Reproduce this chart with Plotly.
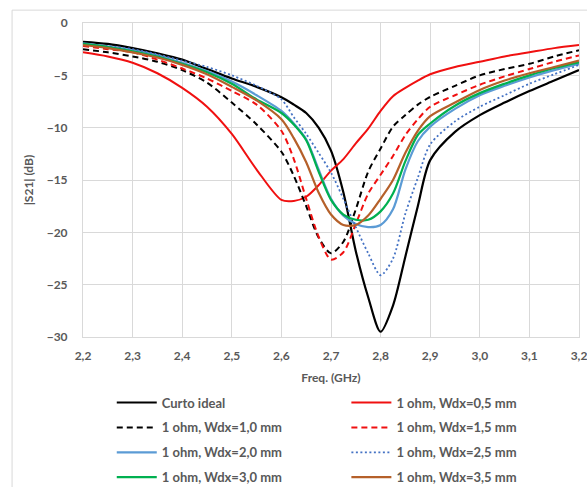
import plotly.graph_objects as go

freq = [2.2, 2.25, 2.3, 2.35, 2.4, 2.45, 2.5, 2.55, 2.6, 2.625, 2.65, 2.675, 2.7,
        2.725, 2.75, 2.775, 2.8, 2.825, 2.85, 2.875, 2.9, 2.95, 3.0, 3.05, 3.1, 3.15, 3.2]

curto_ideal = [-1.8, -2.0, -2.4, -2.9, -3.5, -4.4, -5.3, -6.1, -7.1, -7.8, -8.6, -10.0, -12.2,
               -16.2, -21.8, -26.2, -29.5, -27.0, -22.3, -17.5, -13.1, -10.4, -8.8, -7.6, -6.5, -5.5, -4.5]
wdx_05 = [-2.8, -3.2, -3.8, -4.8, -6.2, -8.0, -10.6, -14.0, -16.9, -17.0, -16.6, -15.5, -14.1,
          -13.0, -11.5, -10.1, -8.4, -7.0, -6.2, -5.5, -4.9, -4.2, -3.7, -3.2, -2.8, -2.4, -2.1]
wdx_10 = [-2.5, -2.8, -3.2, -3.7, -4.5, -5.7, -7.6, -9.7, -12.3, -14.6, -17.5, -20.5, -22.0,
          -20.9, -17.8, -14.2, -12.0, -9.9, -8.8, -7.8, -7.06, -6.0, -5.0, -4.4, -3.9, -3.2, -2.6]
wdx_15 = [-2.2, -2.5, -2.8, -3.5, -4.35, -5.3, -6.5, -7.8, -10.3, -13.0, -16.8, -20.4, -22.6,
          -21.9, -19.2, -16.3, -14.5, -12.7, -10.7, -9.2, -8.0, -6.9, -5.9, -5.1, -4.4, -3.7, -3.1]
wdx_20 = [-1.95, -2.25, -2.6, -3.1, -3.8, -4.6, -5.6, -6.9, -8.4, -9.6, -11.1, -14.0, -16.8,
          -18.4, -19.2, -19.5, -19.3, -17.8, -14.0, -11.3, -9.9, -8.2, -6.9, -6.0, -5.2, -4.5, -3.9]
wdx_25 = [-2.0, -2.2, -2.5, -3.0, -3.6, -4.2, -5.0, -6.0, -7.3, -9.0, -10.6, -12.4, -14.3,
          -16.8, -19.5, -22.0, -24.1, -22.5, -18.2, -14.8, -11.6, -9.4, -8.0, -6.9, -5.8, -4.9, -4.0]
wdx_30 = [-2.0, -2.3, -2.7, -3.2, -3.9, -4.7, -5.8, -7.3, -8.6, -9.7, -11.2, -14.2, -16.9,
          -18.3, -18.8, -18.8, -18.0, -16.3, -13.2, -10.7, -9.6, -7.9, -6.7, -5.8, -5.0, -4.3, -3.75]
wdx_35 = [-2.1, -2.4, -2.8, -3.3, -4.0, -4.9, -6.1, -7.4, -9.2, -11.0, -13.3, -16.2, -18.3,
          -19.3, -19.3, -18.4, -16.8, -15.0, -12.4, -10.3, -8.9, -7.6, -6.4, -5.5, -4.8, -4.2, -3.6]

x_ticks = [2.2, 2.3, 2.4, 2.5, 2.6, 2.7, 2.8, 2.9, 3.0, 3.1, 3.2]
y_ticks = [0, -5, -10, -15, -20, -25, -30]

series = [
    ("Curto ideal", curto_ideal, "#000000", "solid", 2.2, "legend"),
    ("1 ohm, Wdx=0,5 mm", wdx_05, "#F01010", "solid", 2.0, "legend2"),
    ("1 ohm, Wdx=1,0 mm", wdx_10, "#000000", "6px,4px", 2.0, "legend"),
    ("1 ohm, Wdx=1,5 mm", wdx_15, "#F01010", "6px,4px", 2.0, "legend2"),
    ("1 ohm, Wdx=2,0 mm", wdx_20, "#5B9BD5", "solid", 2.2, "legend"),
    ("1 ohm, Wdx=2,5 mm", wdx_25, "#4472C4", "2px,2.5px", 1.8, "legend2"),
    ("1 ohm, Wdx=3,0 mm", wdx_30, "#00B050", "solid", 2.2, "legend"),
    ("1 ohm, Wdx=3,5 mm", wdx_35, "#B5602A", "solid", 2.2, "legend2"),
]

fig = go.Figure()
for name, vals, color, dash, width, leg in series:
    fig.add_trace(go.Scatter(
        x=freq, y=vals, mode="lines", name=name, legend=leg, legendgroup=name,
        line=dict(color=color, dash=dash, width=width, shape="spline", smoothing=0.8),
    ))

font_family = "Lato, 'Open Sans', sans-serif"
gray = "#595959"
grid = "#D9D9D9"
tfont = dict(size=12, color=gray, weight="bold")
lfont = dict(size=13, color=gray, weight="bold")

fig.update_layout(
    width=587, height=487,
    margin=dict(l=83, r=8, t=23, b=150, autoexpand=False),
    paper_bgcolor="white", plot_bgcolor="white",
    separators=", ",
    font=dict(family=font_family, size=12, color=gray),
    xaxis=dict(range=[2.2, 3.2], tickvals=x_ticks, tickformat=".1f",
               showgrid=True, gridcolor=grid, gridwidth=1, zeroline=False,
               showline=True, linecolor=grid, mirror=True, ticks="",
               ticklabelstandoff=8, automargin=False, ticklabeloverflow="allow",
               title=dict(text="Freq. (GHz)", font=tfont, standoff=11),
               tickfont=tfont),
    yaxis=dict(range=[-30, 0], tickvals=y_ticks,
               showgrid=True, gridcolor=grid, gridwidth=1, zeroline=False,
               showline=True, linecolor=grid, mirror=True, ticks="",
               ticklabelstandoff=12, automargin=False, ticklabeloverflow="allow",
               title=dict(text="|S21| (dB)", font=tfont, standoff=10),
               tickfont=tfont),
    legend=dict(x=0.058, y=-0.161, xanchor="left", yanchor="top", orientation="v",
                itemwidth=40, tracegroupgap=5, font=lfont, bgcolor="rgba(0,0,0,0)"),
    legend2=dict(x=0.531, y=-0.161, xanchor="left", yanchor="top", orientation="v",
                 itemwidth=40, tracegroupgap=5, font=lfont, bgcolor="rgba(0,0,0,0)"),
    shapes=[dict(type="rect", xref="paper", yref="paper",
                 x0=-0.143, y0=-0.6, x1=1.2, y1=1.041,
                 line=dict(color=grid, width=1), layer="below")],
)

fig.write_html("out.html", config={"displayModeBar": False},
               post_script="document.body.style.margin='0px';")
